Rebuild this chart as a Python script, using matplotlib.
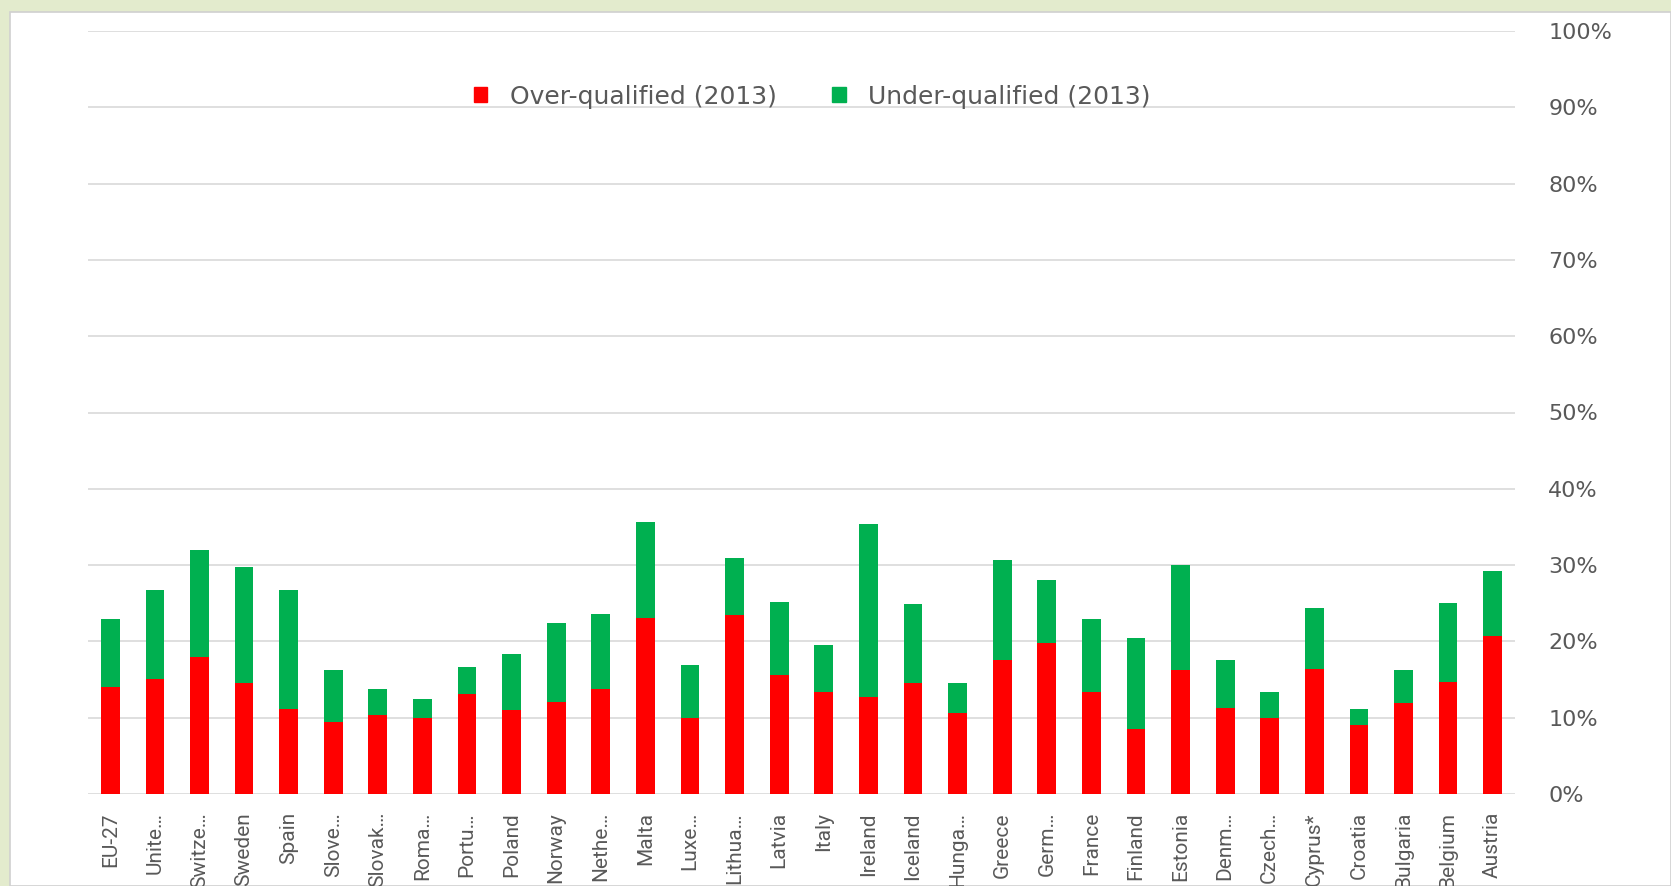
import numpy as np
import matplotlib
matplotlib.use("Agg")
import matplotlib.pyplot as plt
from matplotlib.patches import Rectangle, Patch

countries = ["EU-27", "Unite…", "Switze…", "Sweden", "Spain", "Slove…", "Slovak…",
             "Roma…", "Portu…", "Poland", "Norway", "Nethe…", "Malta", "Luxe…",
             "Lithua…", "Latvia", "Italy", "Ireland", "Iceland", "Hunga…", "Greece",
             "Germ…", "France", "Finland", "Estonia", "Denm…", "Czech…", "Cyprus*",
             "Croatia", "Bulgaria", "Belgium", "Austria"]

# share of workers, %
over_qualified = [14.0, 15.1, 17.9, 14.6, 11.2, 9.4, 10.3, 10.0, 13.1, 11.0, 12.1, 13.8,
                  23.1, 10.0, 23.4, 15.6, 13.4, 12.7, 14.6, 10.6, 17.6, 19.8, 13.4, 8.5,
                  16.3, 11.3, 9.9, 16.4, 9.0, 11.9, 14.7, 20.7]
total_mismatch = [23.0, 26.8, 32.0, 29.8, 26.7, 16.3, 13.8, 12.5, 16.6, 18.3, 22.4, 23.6,
                  35.6, 16.9, 30.9, 25.2, 19.5, 35.4, 24.9, 14.6, 30.7, 28.1, 22.9, 20.4,
                  30.0, 17.6, 13.4, 24.4, 11.2, 16.3, 25.0, 29.2]
under_qualified = [t - o for t, o in zip(total_mismatch, over_qualified)]

y_ticks = [0, 10, 20, 30, 40, 50, 60, 70, 80, 90, 100]

red = "#ff0000"
green = "#00b050"
grey_text = "#595959"

fig = plt.figure(figsize=(16.71, 8.86), dpi=100, facecolor="#e3ebcd")
# slide panel behind the chart
fig.patches.append(Rectangle((10 / 1671, 0), 1 - 10 / 1671, 1 - 12 / 886,
                             transform=fig.transFigure, facecolor="white",
                             edgecolor="#d0d0d0", linewidth=1.2, zorder=-10))

ax = fig.add_axes([88 / 1671, 1 - 794 / 886, 1427 / 1671, 763 / 886])
ax.set_facecolor("none")

x = np.arange(len(countries))
ax.bar(x, over_qualified, width=0.42, color=red, zorder=3)
ax.bar(x, under_qualified, width=0.42, bottom=over_qualified, color=green, zorder=3)

ax.set_xlim(-0.5, len(countries) - 0.5)
ax.set_ylim(0, 100)
ax.set_yticks(y_ticks)
ax.set_yticklabels([f"{v}%" for v in y_ticks], fontsize=16, color=grey_text,
                   family=["DejaVu Sans"])
ax.yaxis.tick_right()
ax.tick_params(axis="y", length=0, pad=24)
ax.grid(axis="y", color="#d9d9d9", linewidth=1.2, zorder=0)

ax.set_xticks(x)
ax.set_xticklabels(countries, rotation=90, fontsize=15, color=grey_text,
                   family=["Roboto", "DejaVu Sans"], va="top")
ax.tick_params(axis="x", length=0, pad=13)

for s in ax.spines.values():
    s.set_visible(False)

handles = [Patch(color=red, label="Over-qualified (2013)"),
           Patch(color=green, label="Under-qualified (2013)")]
leg = fig.legend(handles=handles, loc="center", bbox_to_anchor=(0.486, 0.891), ncol=2,
                 frameon=False, handlelength=0.55, handleheight=0.55,
                 handletextpad=0.9, columnspacing=2.2,
                 prop={"family": ["DejaVu Sans"], "size": 18})
for t in leg.get_texts():
    t.set_color(grey_text)

fig.savefig("out.png", dpi=100, facecolor=fig.get_facecolor())
